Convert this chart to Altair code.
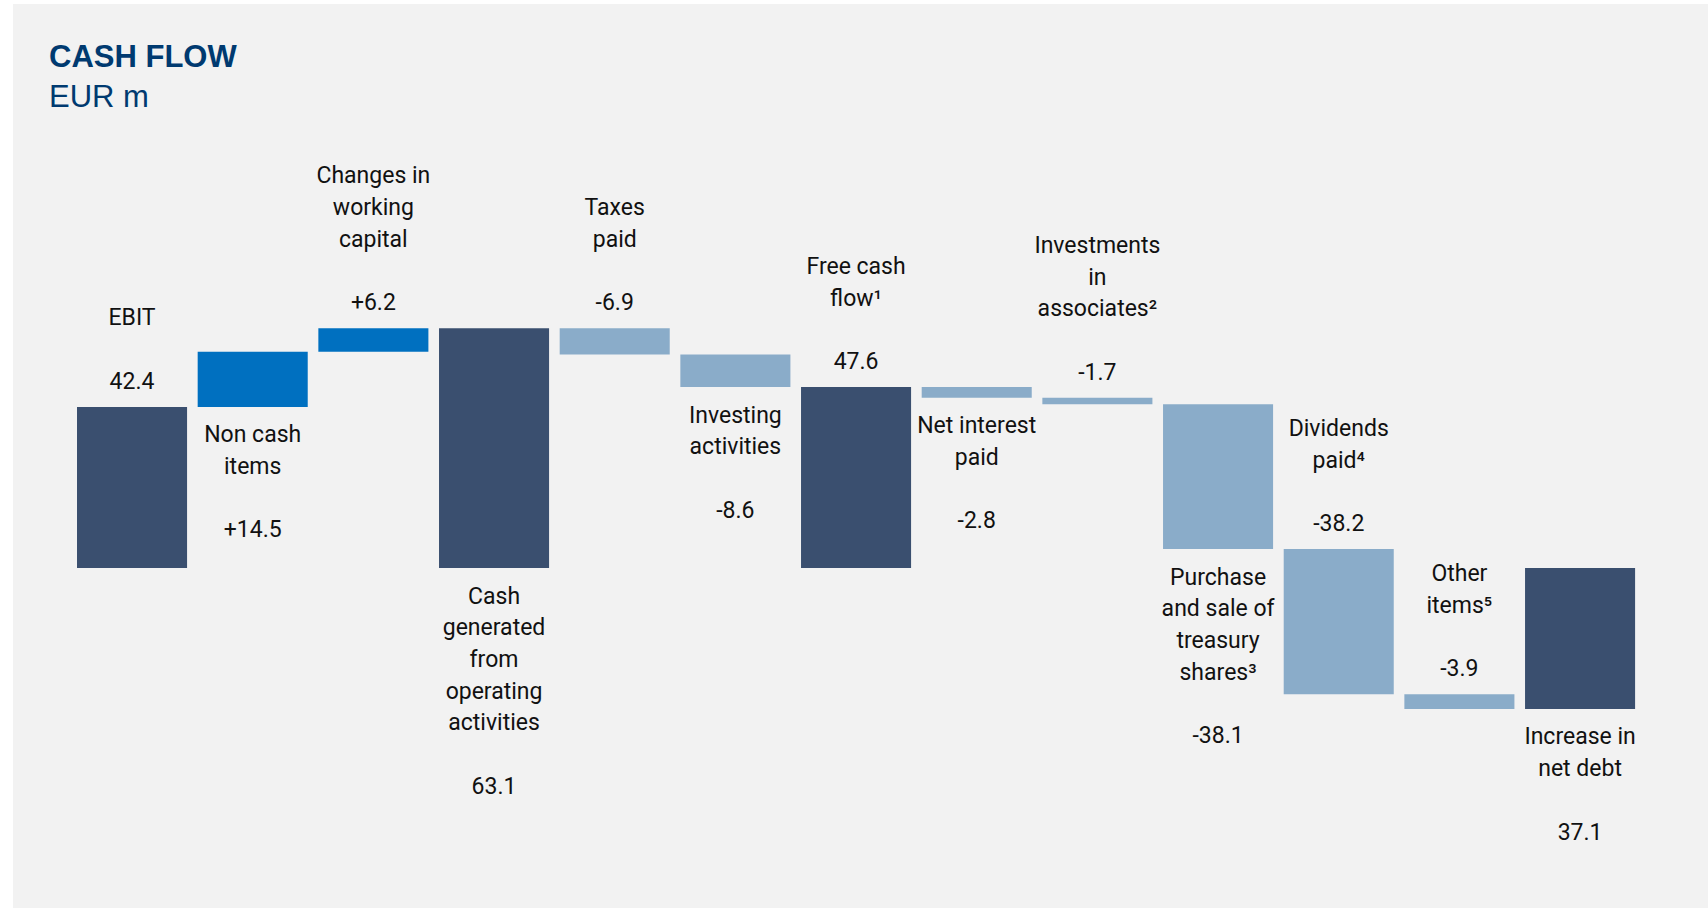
import altair as alt
import pandas as pd

categories = [
    "EBIT", "Non cash items", "Changes in working capital",
    "Cash generated from operating activities", "Taxes paid",
    "Investing activities", "Free cash flow", "Net interest paid",
    "Investments in associates", "Purchase and sale of treasury shares",
    "Dividends paid", "Other items", "Increase in net debt",
]
label_lines = [
    ["EBIT"], ["Non cash", "items"], ["Changes in", "working", "capital"],
    ["Cash", "generated", "from", "operating", "activities"], ["Taxes", "paid"],
    ["Investing", "activities"], ["Free cash", "flow\u00b9"], ["Net interest", "paid"],
    ["Investments", "in", "associates\u00b2"], ["Purchase", "and sale of", "treasury", "shares\u00b3"],
    ["Dividends", "paid\u2074"], ["Other", "items\u2075"], ["Increase in", "net debt"],
]
values = [42.4, 14.5, 6.2, 63.1, -6.9, -8.6, 47.6, -2.8, -1.7, -38.1, -38.2, -3.9, -37.1]
value_labels = ["42.4", "+14.5", "+6.2", "63.1", "-6.9", "-8.6", "47.6", "-2.8", "-1.7",
                "-38.1", "-38.2", "-3.9", "37.1"]
kinds = ["total", "increase", "increase", "total", "decrease", "decrease", "total",
         "decrease", "decrease", "decrease", "decrease", "decrease", "total"]
label_side = ["above", "below", "above", "below", "above", "below", "above", "below",
              "above", "below", "above", "above", "below"]

bar_rows, text_rows = [], []
running = 0.0
for i, cat in enumerate(categories):
    v = values[i]
    if kinds[i] == "total":
        start, end = 0.0, v
    else:
        start, end = running, running + v
    running = end
    lo, hi = min(start, end), max(start, end)
    bar_rows.append(dict(cat=cat, start=start, end=end, kind=kinds[i]))
    # lines ordered outward from the bar edge; one empty line between label and value
    if label_side[i] == "above":
        lines = [value_labels[i], None] + label_lines[i][::-1]
        anchor = hi
    else:
        lines = label_lines[i] + [None, value_labels[i]]
        anchor = lo
    for slot, line in enumerate(lines):
        if line is not None:
            text_rows.append(dict(cat=cat, side=label_side[i], slot=slot,
                                  anchor=anchor, line=line))
bars_df = pd.DataFrame(bar_rows)
text_df = pd.DataFrame(text_rows)

FONT = "Roboto, Liberation Sans, Arial, sans-serif"
FS = 23
LH = 31.7
xenc = alt.X("cat:N", sort=categories, axis=None,
             scale=alt.Scale(range=[58.7, 1627.4], paddingInner=0.088, paddingOuter=0.044))
yscale = alt.Scale(domain=[-89.47, 148.42], nice=False, zero=False)

bars = alt.Chart(bars_df).mark_bar().encode(
    x=xenc,
    y=alt.Y("start:Q", scale=yscale, axis=None),
    y2="end:Q",
    color=alt.Color("kind:N", legend=None,
                    scale=alt.Scale(domain=["total", "increase", "decrease"],
                                    range=["#3a4f6f", "#0070c0", "#8aacc9"])),
)

layers = [bars]
tbase = alt.Chart(text_df)
for side in ["above", "below"]:
    for slot in range(7):
        dy = -(18 + slot * LH) if side == "above" else (35.5 + slot * LH)
        layers.append(
            tbase.transform_filter(
                (alt.datum.side == side) & (alt.datum.slot == slot)
            ).mark_text(
                baseline="alphabetic", dy=dy, fontSize=FS, font=FONT, color="#111111"
            ).encode(x=xenc, y=alt.Y("anchor:Q", scale=yscale, axis=None), text="line:N")
        )

chart = alt.layer(*layers).properties(
    width=1695, height=904,
    padding={"left": 13, "top": 4, "right": 0, "bottom": 0},
    autosize=alt.AutoSizeParams(type="none"),
    background="white",
    title=alt.Title(
        "CASH FLOW", subtitle="EUR m", anchor="start", frame="group",
        dx=36, dy=110, offset=0, subtitlePadding=9,
        font="Liberation Sans", subtitleFont="Liberation Sans",
        fontSize=31, subtitleFontSize=31, fontWeight="bold", subtitleFontWeight="normal",
        color="#003a70", subtitleColor="#003a70",
    ),
).configure_view(fill="#f2f2f2", stroke=None)

chart.save("out.html", embed_options={"renderer": "svg", "actions": False})
